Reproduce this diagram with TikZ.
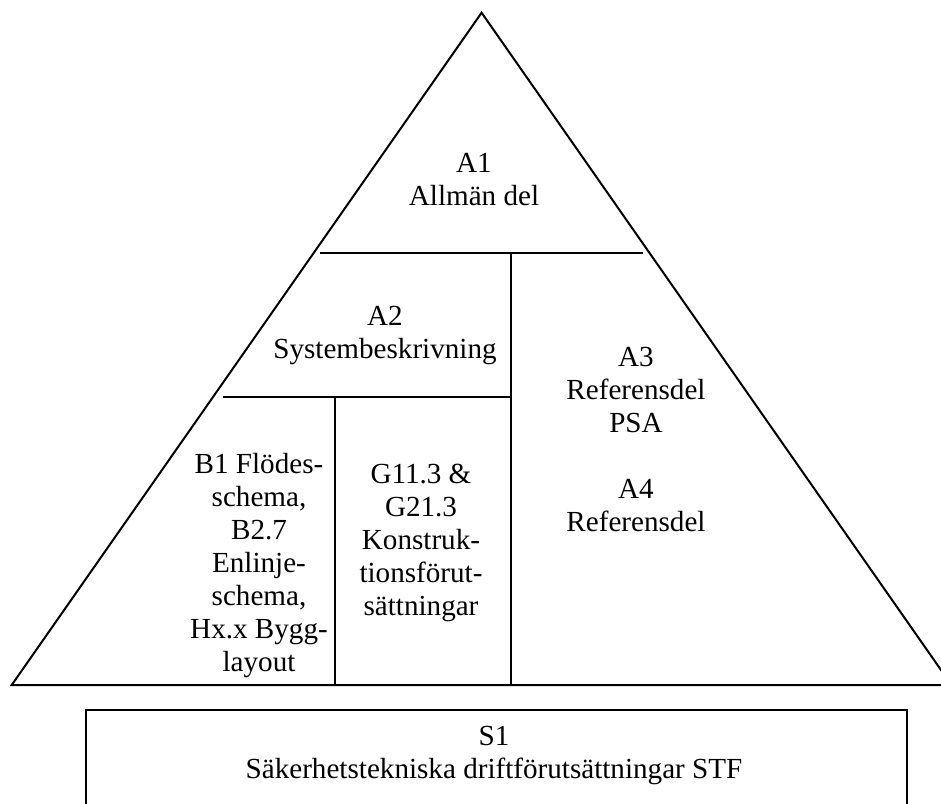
\documentclass[tikz,border=0pt]{standalone}
\usepackage{fontspec}
\setmainfont{Liberation Serif}
\begin{document}
\begin{tikzpicture}[
            x=0.4pt, y=-0.4pt,
            blocktext/.style={align=center, inner sep=0pt, font=\fontsize{11.65pt}{13.2pt}\selectfont},
            wall/.style={draw=black, line width=0.8pt}
          ]
          \clip (0,0) rectangle (941,803);
          % pyramid
          \coordinate (apex) at (481.6,12.7);
          \coordinate (baseL) at (11.7,685);
          \coordinate (baseR) at (951.5,685);
          \draw[wall] (baseL) -- (apex) -- (baseR) -- cycle;
          \coordinate (a1L) at (320,253.3);
          \coordinate (a1R) at (642.7,253.3);
          \coordinate (midT) at (510.7,253.3);
          \coordinate (midB) at (510.7,685);
          \coordinate (a2L) at (222.7,397.3);
          \coordinate (a2R) at (510.7,397.3);
          \coordinate (colT) at (335,397.3);
          \coordinate (colB) at (335,685);
          \draw[wall] (a1L) -- (a1R);
          \draw[wall] (midT) -- (midB);
          \draw[wall] (a2L) -- (a2R);
          \draw[wall] (colT) -- (colB);
          % base block
          \draw[wall] (85.6,709.6) rectangle (906.8,840);
          \node[blocktext] (a1) at (474,180) {A1\\Allmän del};
          \node[blocktext] (a2) at (385,335) {A2\\Systembeskrivning};
          \node[blocktext] (b1) at (259,566) {B1 Flödes-\\schema,\\B2.7\\Enlinje-\\schema,\\Hx.x Bygg-\\layout};
          \node[blocktext] (g11) at (421,543) {G11.3 \&\\G21.3\\Konstruk-\\tionsförut-\\sättningar};
          \node[blocktext] (a3) at (636,439) {A3\\Referensdel\\PSA\\[13.2pt]A4\\Referensdel};
          \node[blocktext] (s1) at (494,755) {S1\\Säkerhetstekniska driftförutsättningar STF};
        \end{tikzpicture}
\end{document}
